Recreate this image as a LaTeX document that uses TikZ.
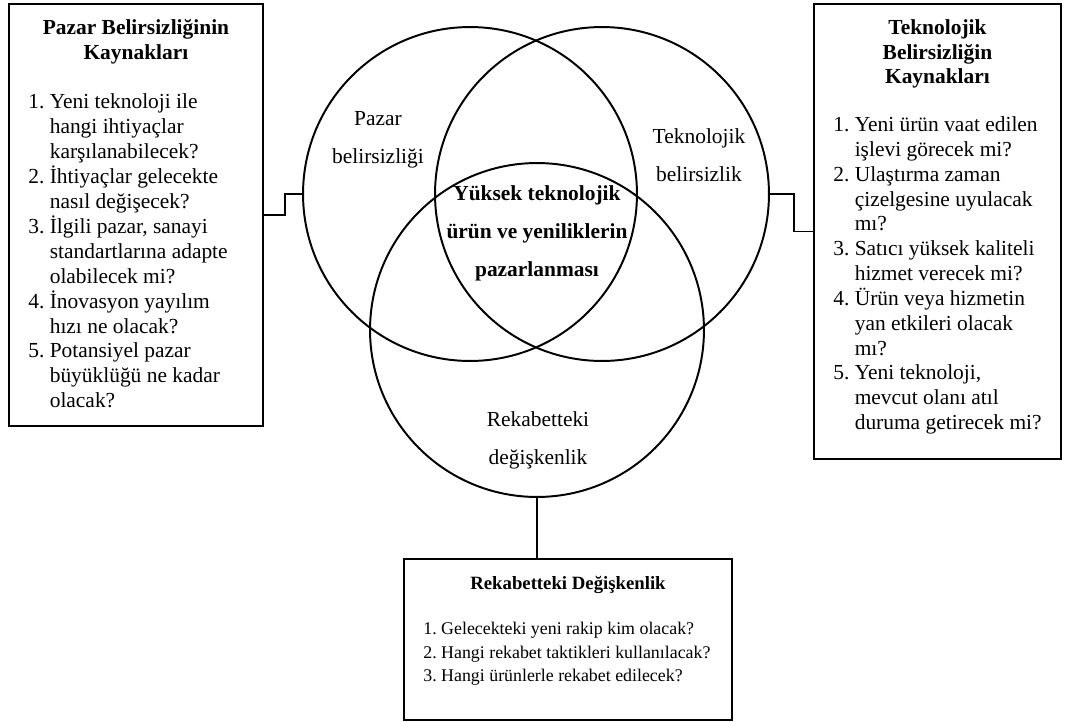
\documentclass[tikz,border=0pt]{standalone}
\usepackage{fontspec}
\setmainfont{Liberation Serif}
\usetikzlibrary{positioning}
\newcommand{\metin}{\fontsize{12}{13.9}\selectfont}
\newcommand{\kucukmetin}{\fontsize{10}{13.2}\selectfont}

\begin{document}
\begin{tikzpicture}[x=0.56pt, y=-0.56pt,
		kutu/.style={draw, line width=1.1pt, inner sep=0pt},
		daire/.style={draw, circle, line width=1.1pt, minimum size=187pt, inner sep=0pt},
		baslik/.style={font=\metin\bfseries, align=center, inner sep=0pt},
		liste/.style={font=\metin, inner sep=0pt},
		etiket/.style={font=\fontsize{12}{21.3}\selectfont, align=center, inner sep=0pt}]
		\useasboundingbox (0,0) rectangle (1067,722);
		% Define the circles
		\node (pazar) [daire] at (470,194) {};
		\node (teknoloji) [daire] at (602,194) {};
		\node (rekabet) [daire] at (537,330) {};
		
		\node (pazaretiket) [etiket] at (378,140) {Pazar\\belirsizliği};
		\node (teknoetiket) [etiket] at (699,155) {Teknolojik\\belirsizlik};
		\node (merkez) [etiket, font=\fontsize{12}{21.3}\selectfont\bfseries] at (537,233) {Yüksek teknolojik\\ürün ve yeniliklerin\\pazarlanması};
		\node (rekabetetiket) [etiket] at (538,440) {Rekabetteki\\değişkenlik};
		
		% Define the boxes
		\node (pazarkutu) [kutu, anchor=north west, minimum width=142.2pt, minimum height=236.3pt] at (8,3) {};
		\node (pazarbaslik) [baslik, below=9pt of pazarkutu.north] {Pazar Belirsizliğinin\\Kaynakları};
		\node (pazarliste) [liste, below right=49.3pt and 11.2pt of pazarkutu.north west] {%
			\begin{tabular}{@{}l@{\hspace{3pt}}l@{}}
				1. & Yeni teknoloji ile\\
				   & hangi ihtiyaçlar\\
				   & karşılanabilecek?\\
				2. & İhtiyaçlar gelecekte\\
				   & nasıl değişecek?\\
				3. & İlgili pazar, sanayi\\
				   & standartlarına adapte\\
				   & olabilecek mi?\\
				4. & İnovasyon yayılım\\
				   & hızı ne olacak?\\
				5. & Potansiyel pazar\\
				   & büyüklüğü ne kadar\\
				   & olacak?
			\end{tabular}};
		
		\node (teknokutu) [kutu, anchor=north west, minimum width=138.3pt, minimum height=254.8pt] at (813,3) {};
		\node (teknobaslik) [baslik, below=9pt of teknokutu.north] {Teknolojik\\Belirsizliğin\\Kaynakları};
		\node (teknoliste) [liste, below right=62.1pt and 11.2pt of teknokutu.north west] {%
			\begin{tabular}{@{}l@{\hspace{3pt}}l@{}}
				1. & Yeni ürün vaat edilen\\
				   & işlevi görecek mi?\\
				2. & Ulaştırma zaman\\
				   & çizelgesine uyulacak\\
				   & mı?\\
				3. & Satıcı yüksek kaliteli\\
				   & hizmet verecek mi?\\
				4. & Ürün veya hizmetin\\
				   & yan etkileri olacak\\
				   & mı?\\
				5. & Yeni teknoloji,\\
				   & mevcut olanı atıl\\
				   & duruma getirecek mi?
			\end{tabular}};
		
		\node (rekabetkutu) [kutu, anchor=north west, minimum width=183.7pt, minimum height=90.2pt] at (403,558) {};
		\node (rekabetbaslik) [baslik, font=\fontsize{10.5}{12}\selectfont\bfseries, below=10pt of rekabetkutu.north] {Rekabetteki Değişkenlik};
		\node (rekabetliste) [liste, font=\kucukmetin, below right=33.4pt and 11.2pt of rekabetkutu.north west] {%
			\begin{tabular}{@{}l@{\hspace{2.5pt}}l@{}}
				1. & Gelecekteki yeni rakip kim olacak?\\
				2. & Hangi rekabet taktikleri kullanılacak?\\
				3. & Hangi ürünlerle rekabet edilecek?
			\end{tabular}};
		
		% Connect the boxes to the circles
		\draw[line width=1.1pt] (pazarkutu.east) -- ++(21,0) |- (pazar.west);
		\draw[line width=1.1pt] (teknoloji.east) -- ++(24,0) |- (teknokutu.west);
		\draw[line width=1.1pt] (rekabet.south) -- (rekabet.south |- rekabetkutu.north);
	\end{tikzpicture}
\end{document}
